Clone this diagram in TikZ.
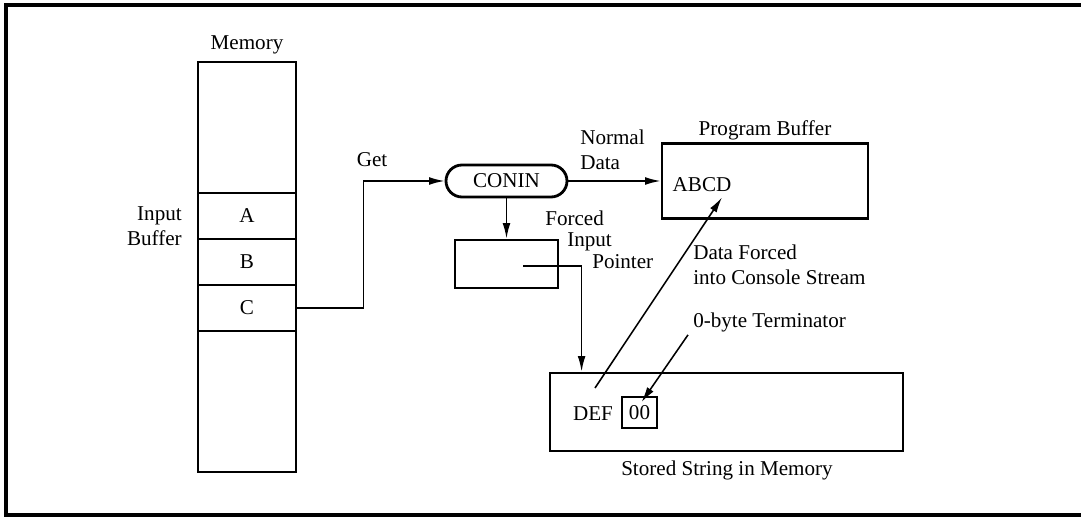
\documentclass[tikz,border=0pt]{standalone}
\usepackage{fontspec}
\setmainfont{Liberation Serif}
\usetikzlibrary{arrows.meta,calc}

\tikzset{
  box/.style={draw, line width=2pt, inner sep=0pt},
  cell/.style={box, minimum width=98*0.025cm, minimum height=46*0.025cm},
  conn/.style={line width=1.1pt, -{Latex[length=11pt,width=5.5pt]}},
  lbl/.style={inner sep=0pt, font=\fontsize{15}{17.5}\selectfont},
}

\begin{document}
\begin{tikzpicture}[x=0.025cm, y=-0.025cm]
            % Define parameters
            \def\px{0.025cm}   % one pixel of the original

            % Page and frame
            \useasboundingbox (0,0) rectangle (1081,517);
            \draw[line width=2.2pt] (1085,5) -- (6,5) -- (6,515) -- (1085,515);

            % Memory column with the input buffer
            \node[box, minimum width=98*\px, minimum height=410*\px] (mem) at (247,267) {};
            \node[lbl] (memlbl) at (247,45) {Memory};
            \node[cell, lbl] (A) at (247,216) {A};
            \node[cell, lbl] (B) at (247,262) {B};
            \node[cell, lbl] (C) at (247,308) {C};
            \node[lbl, align=right, anchor=east] (inbuf) at (182,226) {Input\\Buffer};

            % Console input routine
            \node[box, lbl, rounded corners=0.4cm, minimum width=121*\px, minimum height=32*\px] (conin) at (506.5,181) {CONIN};
            \node[lbl] (get) at (372,160) {Get};

            % Program buffer
            \node[box, minimum width=206*\px, minimum height=75*\px] (prog) at (765,181) {};
            \node[lbl] (proglbl) at (765,130) {Program Buffer};
            \node[lbl] (abcd) at (702,185) {ABCD};
            \node[lbl, align=left, anchor=west] (normal) at (580,150) {Normal\\Data};

            % Forced input pointer
            \node[box, minimum width=103*\px, minimum height=48*\px] (ptr) at (506.5,264) {};
            \node[lbl, anchor=base west] (forced) at (545,226) {Forced};
            \node[lbl, anchor=base west] (input) at (567,247) {Input};
            \node[lbl, anchor=base west] (pointer) at (592,269) {Pointer};
            \coordinate (ptrstart) at (523,266);

            % Stored string
            \node[box, minimum width=353*\px, minimum height=78*\px] (stored) at (726.5,412) {};
            \node[lbl] (storedlbl) at (727,470) {Stored String in Memory};
            \node[lbl] (def) at (593,414) {DEF};
            \node[draw, line width=1.2pt, lbl, minimum width=35*\px, minimum height=31*\px] (zero) at (639.5,412.5) {00};
            \coordinate (defmark) at (595,388);

            % Annotations
            \node[lbl, align=left, anchor=west] (forcedlbl) at (693,265) {Data Forced\\into Console Stream};
            \node[lbl, anchor=west] (term) at (693,322) {0-byte Terminator};

            % Connectors
            \draw[conn] (C.east) -- ++(66,0) |- (conin.west);
            \draw[conn] (conin.east) -- (prog.west);
            \draw[conn] (conin.south) -- (ptr.north);
            \draw[conn] (ptrstart) -| ($(stored.north west)+(33,0)$);
            \draw[conn] (defmark) -- ($(abcd.south)+(20,5)$);
            \draw[conn] ($(term.south west)+(-5,3)$) -- ($(zero.north)+(2,6)$);
          \end{tikzpicture}
\end{document}
